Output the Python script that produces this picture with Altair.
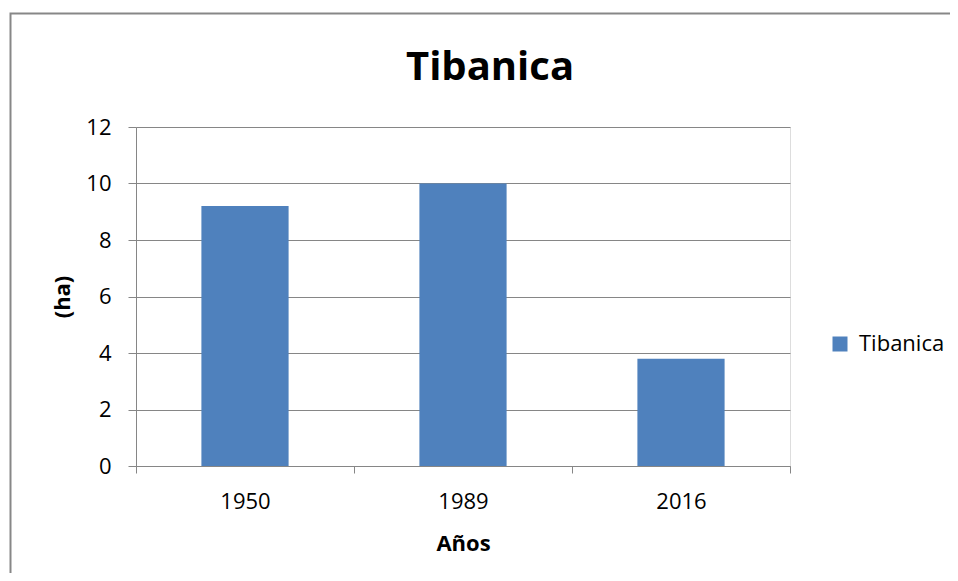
import altair as alt
import pandas as pd

years = ["1950", "1989", "2016"]
values = [9.2, 10.0, 3.8]
series = ["Tibanica", "Tibanica", "Tibanica"]
y_ticks = [0, 2, 4, 6, 8, 10, 12]

df = pd.DataFrame({"Año": years, "ha": values, "Serie": series})

FONT = "Open Sans"
GRID = "#868686"
BAR = "#4F81BD"
W, H = 654, 339
STEP = W / 3.0
HALF_GAP = 0.3 * STEP

frame = alt.Chart(pd.DataFrame({"k": [0]})).mark_rect(
    fill="white", fillOpacity=0, stroke="#878787", strokeWidth=2
).encode(
    x=alt.value(-125.5), x2=alt.value(1000), y=alt.value(-113.5), y2=alt.value(700)
)

bars = alt.Chart(df).mark_bar().encode(
    x=alt.X(
        "Año:N",
        sort=years,
        scale=alt.Scale(paddingInner=0.6, paddingOuter=0.3),
        axis=alt.Axis(
            title="Años",
            labelAngle=0,
            bandPosition=2.5,
            tickExtra=True,
            tickOffset=-HALF_GAP,
            labelOffset=HALF_GAP,
            domainColor=GRID,
            tickColor=GRID,
            tickSize=7,
            labelPadding=18,
            labelFont=FONT,
            labelFontSize=22,
            labelColor="black",
            titleFont=FONT,
            titleFontSize=22,
            titleFontWeight="bold",
            titleColor="black",
            titleBaseline="alphabetic",
            titleY=84,
        ),
    ),
    y=alt.Y(
        "ha:Q",
        scale=alt.Scale(domain=[0, 12]),
        axis=alt.Axis(
            values=y_ticks,
            title="(ha)",
            domainColor=GRID,
            gridColor=GRID,
            tickColor=GRID,
            tickSize=8,
            labelPadding=17,
            labelFont=FONT,
            labelFontSize=22,
            labelColor="black",
            titleFont=FONT,
            titleFontSize=22,
            titleFontWeight="bold",
            titleColor="black",
            titleBaseline="middle",
            titleX=-74,
            titleY=H / 2,
        ),
    ),
    color=alt.Color(
        "Serie:N",
        scale=alt.Scale(range=[BAR]),
        legend=alt.Legend(
            title=None,
            orient="none",
            legendX=693,
            legendY=206,
            padding=0,
            symbolType="square",
            symbolSize=225,
            symbolStrokeWidth=0,
            labelFont=FONT,
            labelFontSize=22,
            labelColor="black",
            labelOffset=8,
        ),
    ),
)

chart = alt.layer(frame, bars).properties(
    width=W,
    height=H,
    autosize="none",
    padding={"left": 128, "top": 119, "right": 160, "bottom": 107},
    title=alt.TitleParams(
        text="Tibanica",
        font=FONT,
        fontSize=40,
        fontWeight="bold",
        color="black",
        anchor="middle",
        dx=27,
        dy=107,
        baseline="alphabetic",
        offset=0,
    ),
).configure_view(stroke=None).configure(background="white")

chart.save("out.html", embed_options={"renderer": "svg", "actions": False})
